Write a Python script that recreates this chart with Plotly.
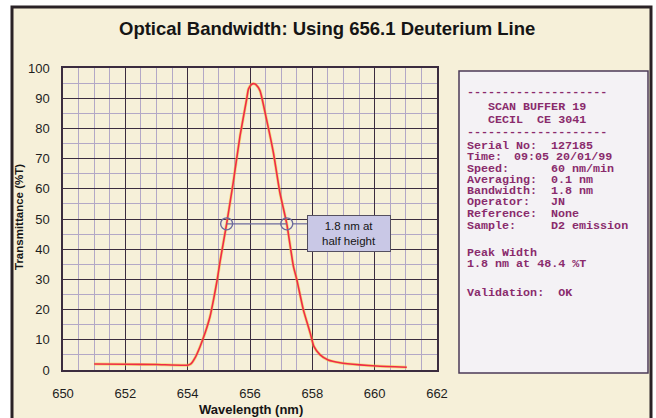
import plotly.graph_objects as go

# ---------------- data ----------------
wavelength = [651.0, 652.0, 653.0, 654.0, 654.1, 654.23, 654.4, 654.56, 654.72, 654.83,
              654.95, 655.04, 655.25, 655.46, 655.68, 655.89, 655.95, 656.05, 656.13, 656.19,
              656.32, 656.53, 656.75, 656.96, 657.18, 657.39, 657.5, 657.71, 657.93, 658.05,
              658.25, 658.51, 658.89, 659.53, 660.06, 661.03]
transmittance = [2.0, 1.9, 1.8, 1.6, 2.0, 3.9, 7.8, 12.3, 17.8, 23.3,
                 30.0, 36.0, 48.4, 62.0, 77.5, 89.5, 93.0, 94.6, 94.8, 94.5,
                 92.5, 83.0, 72.0, 58.7, 48.4, 34.5, 30.0, 20.0, 12.3, 7.8,
                 5.0, 3.3, 2.4, 1.7, 1.3, 0.9]

half_height_x = [655.25, 657.18]
half_height_y = [48.4, 48.4]

x_ticks = [650, 652, 654, 656, 658, 660, 662]
y_ticks = [0, 10, 20, 30, 40, 50, 60, 70, 80, 90, 100]

title_text = "Optical Bandwidth: Using 656.1 Deuterium Line"
x_title = "Wavelength (nm)"
y_title = "Transmittance (%T)"
note_text = "1.8 nm at<br>half height"

panel_header = ["--------------------", "SCAN BUFFER 19", "CECIL  CE 3041", "--------------------"]
panel_labels = ["Serial No:", "Time:", "Speed:", "Averaging:", "Bandwidth:",
                "Operator:", "Reference:", "Sample:"]
panel_values = ["127185", "09:05 20/01/99", "60 nm/min", "0.1 nm", "1.8 nm",
                "JN", "None", "D2 emission"]
panel_footer = ["Peak Width", "1.8 nm at 48.4 %T", "", "Validation:  OK"]

# ---------------- layout helpers ----------------
W, H = 656, 418


def px(x):
    return x / W


def py(y):
    return 1 - y / H


CREAM = "#f6f0d9"
PLOT_BG = "#f3f2f6"
MAJOR = "#3b2c3f"
MINOR = "#b3a8c6"
TXT = "#8a2b6c"
MONO = "Liberation Mono, Courier New, monospace"
SANS = "Liberation Sans, Arial, sans-serif"

fig = go.Figure()

# curve (yellowish halo + red line)
fig.add_trace(go.Scatter(x=wavelength, y=transmittance, mode="lines",
                         line=dict(color="#f2c830", width=3.0, shape="spline", smoothing=0.5),
                         opacity=0.55, hoverinfo="skip", showlegend=False))
fig.add_trace(go.Scatter(x=wavelength, y=transmittance, mode="lines",
                         line=dict(color="#f02a48", width=1.6, shape="spline", smoothing=0.5),
                         showlegend=False))
# half-height marker
fig.add_trace(go.Scatter(x=half_height_x, y=half_height_y, mode="lines+markers",
                         line=dict(color="#6c6a9c", width=1.2),
                         marker=dict(symbol="circle-open", size=12,
                                     line=dict(color="#4a3a70", width=1.4)),
                         showlegend=False))

shapes = []
# outer cream frame with dark border
shapes.append(dict(type="rect", xref="paper", yref="paper", layer="below",
                   x0=px(12), x1=px(651), y0=-0.02, y1=py(7),
                   fillcolor=CREAM, line=dict(color="#2a2226", width=3)))
# right info panel
shapes.append(dict(type="rect", xref="paper", yref="paper", layer="below",
                   x0=px(459), x1=px(648), y0=py(373), y1=py(71),
                   fillcolor="#f4f2f5", line=dict(color="#4b3a57", width=1.5)))
# connector from right circle to note box
shapes.append(dict(type="line", xref="x", yref="y",
                   x0=657.38, x1=657.85, y0=48.4, y1=48.4,
                   line=dict(color="#6c6a9c", width=1.2)))

annotations = []


def label(text, x, y, size, bold=True, xanchor="center", **kw):
    annotations.append(dict(text=("<b>" + text + "</b>") if bold else text,
                            xref="paper", yref="paper", x=px(x), y=py(y),
                            xanchor=xanchor, yanchor="middle", showarrow=False,
                            font=dict(family=kw.pop("family", SANS), size=size,
                                      color=kw.pop("color", "#151515")), **kw))


label(title_text, 327, 29, 18.5)
label(x_title, 251, 409, 13)
label(y_title, 19, 217, 11.5, textangle=-90)
label(note_text, 349.5, 233.5, 11.5, bold=False,
      width=80, height=33, bgcolor="#c9c8e6",
      bordercolor="#555060", borderwidth=1, borderpad=1)


def mono(text, x, y):
    label(text.replace(" ", "\u00a0"), x, y, 11.7, xanchor="left",
          family=MONO, color=TXT, borderpad=0)


mono(panel_header[0], 466, 92)
mono(panel_header[1], 487, 107)
mono(panel_header[2], 487, 120)
mono(panel_header[3], 466, 132)
row_y = [146, 157.3, 168.7, 179.6, 190.8, 202.3, 214, 225.8]
for lab, val, yy in zip(panel_labels, panel_values, row_y):
    mono(lab, 466, yy)
    if lab == "Time:":
        mono(val, 513, yy)
    else:
        mono(val, 550, yy)
mono(panel_footer[0], 466, 252.7)
mono(panel_footer[1], 466, 264)
mono(panel_footer[3], 466, 293.3)

fig.update_layout(
    width=W, height=H,
    autosize=False,
    margin=dict(l=0, r=0, t=0, b=0, pad=0, autoexpand=False),
    paper_bgcolor="white",
    plot_bgcolor=PLOT_BG,
    shapes=shapes,
    annotations=annotations,
    showlegend=False,
    xaxis=dict(domain=[px(63), px(437)], range=[650, 662], automargin=False,
               tickvals=x_ticks, ticktext=[str(v) for v in x_ticks],
               showgrid=True, gridcolor=MAJOR, gridwidth=1.2,
               minor=dict(dtick=0.5, showgrid=True, gridcolor=MINOR, gridwidth=0.8),
               showline=True, linecolor=MAJOR, linewidth=1.5, mirror=True,
               zeroline=False, ticks="", ticklabelstandoff=11,
               tickfont=dict(family=SANS, size=13, color="#1e1e1e")),
    yaxis=dict(domain=[py(370), py(68)], range=[0, 100], automargin=False,
               tickvals=y_ticks, ticktext=[str(v) for v in y_ticks],
               showgrid=True, gridcolor=MAJOR, gridwidth=1.2,
               minor=dict(dtick=5, showgrid=True, gridcolor=MINOR, gridwidth=0.8),
               showline=True, linecolor=MAJOR, linewidth=1.5, mirror=True,
               zeroline=False, ticks="", ticklabelstandoff=9,
               tickfont=dict(family=SANS, size=13, color="#1e1e1e")),
)

fig.write_html("out.html",
               config={"displayModeBar": False},
               post_script="document.body.style.margin='0';document.body.style.overflow='hidden';")
